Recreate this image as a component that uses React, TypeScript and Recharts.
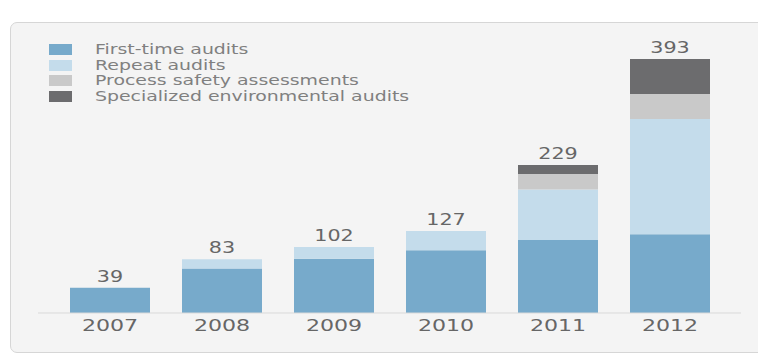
import React from 'react';
import { BarChart, Bar, XAxis, YAxis, Legend, LabelList } from 'recharts';

const years = ['2007', '2008', '2009', '2010', '2011', '2012'];
const firstTime = [39, 69, 84, 97, 113, 122];
const repeat = [0, 14, 18, 30, 78, 178];
const processSafety = [0, 0, 0, 0, 24, 39];
const specialized = [0, 0, 0, 0, 14, 54];
const totals = [39, 83, 102, 127, 229, 393];

const series = [
  { key: 'first', name: 'First-time audits', color: '#77aacb', values: firstTime },
  { key: 'repeat', name: 'Repeat audits', color: '#c4dceb', values: repeat },
  { key: 'process', name: 'Process safety assessments', color: '#c9c9c9', values: processSafety },
  { key: 'special', name: 'Specialized environmental audits', color: '#6c6c6e', values: specialized },
];

const data = years.map((year, i) => {
  const row: Record<string, any> = { year, total: totals[i] };
  series.forEach((s) => {
    row[s.key] = s.values[i];
  });
  return row;
});

// which series sits on top of each stack (for the total label)
const topSeries = years.map((_, i) => {
  let top = 0;
  series.forEach((s, si) => {
    if (s.values[i] > 0) top = si;
  });
  return top;
});

const yMax = Math.max(...totals);
const FONT = '"DejaVu Sans", Verdana, sans-serif';
const STRETCH = 1.38;

function stretched(cx: number) {
  return `translate(${cx} 0) scale(${STRETCH} 1) translate(${-cx} 0)`;
}

function YearTick(props: any) {
  const { x, payload } = props;
  return (
    <text
      x={x}
      y={331}
      textAnchor="middle"
      fontFamily={FONT}
      fontSize={16}
      fill="#666666"
      transform={stretched(x)}
    >
      {payload.value}
    </text>
  );
}

function makeTotalLabel(seriesIdx: number) {
  return function TotalLabel(props: any) {
    const { x, y, width, value } = props;
    const i = years.indexOf(String(value));
    if (i < 0 || topSeries[i] !== seriesIdx) return null;
    const cx = Number(x) + Number(width) / 2;
    return (
      <text
        x={cx}
        y={Number(y) - 6}
        textAnchor="middle"
        fontFamily={FONT}
        fontSize={15}
        fill="#666666"
        transform={stretched(cx)}
      >
        {totals[i]}
      </text>
    );
  };
}

function LegendBox() {
  return (
    <div style={{ fontFamily: FONT }}>
      {series.map((s) => (
        <div key={s.key} style={{ display: 'flex', alignItems: 'center', height: 15.5 }}>
          <div style={{ width: 23, height: 11, background: s.color, marginRight: 23 }} />
          <div
            style={{
              fontSize: 14,
              lineHeight: '15px',
              color: '#808080',
              transform: 'scaleX(1.35)',
              transformOrigin: 'left center',
              whiteSpace: 'nowrap',
            }}
          >
            {s.name}
          </div>
        </div>
      ))}
    </div>
  );
}

export default function App() {
  return (
    <div style={{ position: 'absolute', left: 0, top: 0, width: 758, height: 354, background: '#ffffff' }}>
      <div
        style={{
          position: 'absolute',
          left: 10,
          top: 22,
          width: 760,
          height: 329,
          border: '1px solid #d6d6d6',
          borderRadius: 7,
          background: '#f4f4f4',
        }}
      />
      <div style={{ position: 'absolute', left: 0, top: 0 }}>
        <BarChart
          width={758}
          height={354}
          data={data}
          margin={{ top: 59, right: 17, left: 38, bottom: 0 }}
          barSize={80}
        >
          <XAxis
            dataKey="year"
            height={41}
            padding={{ left: 16, right: 15 }}
            tickLine={false}
            axisLine={{ stroke: '#d9d9d9' }}
            tick={<YearTick />}
            interval={0}
          />
          <YAxis hide domain={[0, yMax]} allowDataOverflow />
          <Legend
            verticalAlign="middle"
            align="center"
            content={<LegendBox />}
            wrapperStyle={{ position: 'absolute', left: 49, top: 42, width: 420, height: 64 }}
          />
          {series.map((s, si) => (
            <Bar
              key={s.key}
              dataKey={s.key}
              name={s.name}
              stackId="a"
              fill={s.color}
              isAnimationActive={false}
            >
              <LabelList dataKey="year" content={makeTotalLabel(si)} />
            </Bar>
          ))}
        </BarChart>
      </div>
    </div>
  );
}
